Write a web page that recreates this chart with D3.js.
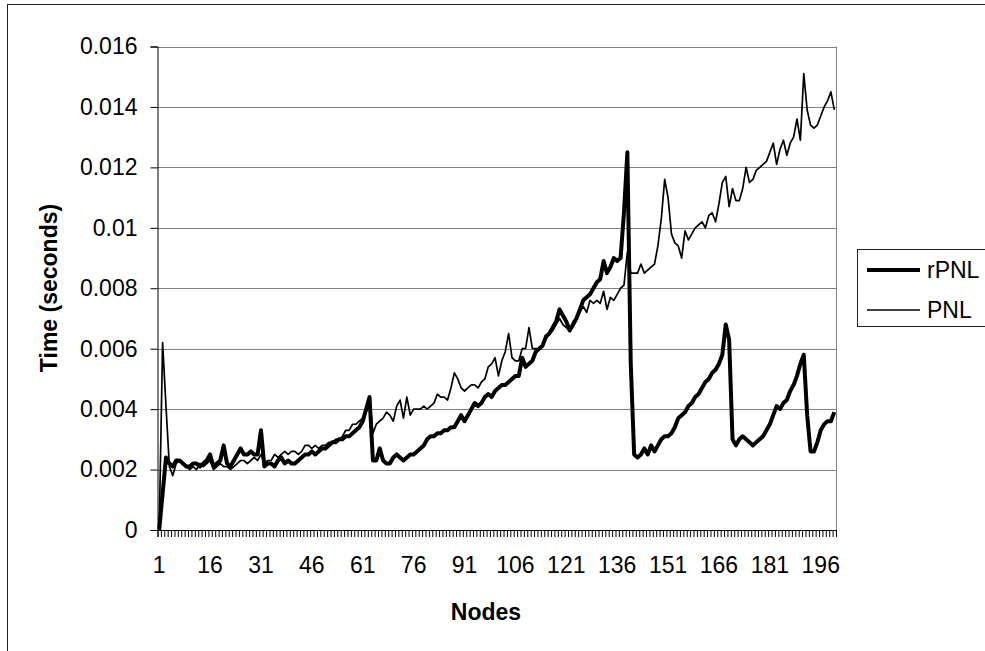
<!DOCTYPE html>
<html>
<head>
<meta charset="utf-8">
<script src="https://cdn.jsdelivr.net/npm/d3@7"></script>
<style>
    body { margin: 0; background: #fff; }
    svg text { font-family: "Liberation Sans", Arial, sans-serif; fill: #000; }
</style>
</head>
<body>
<div id="svgContainer"></div>
<script>
// node count 1..200
const nodes = d3.range(1, 201);

// thick series
const rpnlTimes = [
    0, 0.0012, 0.0024, 0.0022, 0.0021, 0.0023, 0.0023, 0.0022, 0.0021, 0.0021,
    0.0022, 0.0022, 0.0021, 0.0022, 0.0023, 0.0025, 0.0021, 0.0022, 0.0023, 0.0028,
    0.0022, 0.0021, 0.0023, 0.0025, 0.0027, 0.0025, 0.0025, 0.0026, 0.0025, 0.0025,
    0.0033, 0.0021, 0.0022, 0.0022, 0.0021, 0.0023, 0.0024, 0.0022, 0.0023, 0.0022,
    0.0022, 0.0023, 0.0024, 0.0025, 0.0025, 0.0026, 0.0025, 0.0026, 0.0027, 0.0027,
    0.0028, 0.0029, 0.0029, 0.0030, 0.0030, 0.0031, 0.0031, 0.0032, 0.0033, 0.0034,
    0.0036, 0.0040, 0.0044, 0.0023, 0.0023, 0.0027, 0.0023, 0.0022, 0.0022, 0.0024,
    0.0025, 0.0024, 0.0023, 0.0024, 0.0025, 0.0025, 0.0026, 0.0027, 0.0028, 0.0030,
    0.0031, 0.0031, 0.0032, 0.0032, 0.0033, 0.0033, 0.0034, 0.0034, 0.0036, 0.0038,
    0.0036, 0.0038, 0.0040, 0.0042, 0.0041, 0.0042, 0.0044, 0.0045, 0.0044, 0.0046,
    0.0047, 0.0048, 0.0048, 0.0049, 0.0050, 0.0051, 0.0051, 0.0057, 0.0054, 0.0055,
    0.0056, 0.0059, 0.0060, 0.0061, 0.0064, 0.0065, 0.0067, 0.0069, 0.0073, 0.0071,
    0.0069, 0.0066, 0.0068, 0.0070, 0.0073, 0.0076, 0.0077, 0.0078, 0.0080, 0.0082,
    0.0083, 0.0089, 0.0085, 0.0087, 0.0090, 0.0089, 0.0090, 0.0105, 0.0125, 0.0055,
    0.0025, 0.0024, 0.0025, 0.0027, 0.0025, 0.0028, 0.0026, 0.0028, 0.0030, 0.0031,
    0.0031, 0.0032, 0.0034, 0.0037, 0.0038, 0.0039, 0.0041, 0.0042, 0.0044, 0.0045,
    0.0047, 0.0049, 0.0050, 0.0052, 0.0053, 0.0055, 0.0058, 0.0068, 0.0063, 0.0030,
    0.0028, 0.0030, 0.0031, 0.0030, 0.0029, 0.0028, 0.0029, 0.0030, 0.0031, 0.0033,
    0.0035, 0.0038, 0.0041, 0.0040, 0.0042, 0.0043, 0.0046, 0.0048, 0.0051, 0.0055,
    0.0058, 0.0038, 0.0026, 0.0026, 0.0029, 0.0033, 0.0035, 0.0036, 0.0036, 0.0039
];

// thin series
const pnlTimes = [
    0, 0.0062, 0.0041, 0.0021, 0.0018, 0.0022, 0.0023, 0.0022, 0.0021, 0.0020,
    0.0021, 0.0020, 0.0022, 0.0021, 0.0022, 0.0023, 0.0020, 0.0021, 0.0022, 0.0021,
    0.0021, 0.0020, 0.0021, 0.0022, 0.0023, 0.0023, 0.0022, 0.0023, 0.0024, 0.0023,
    0.0025, 0.0022, 0.0023, 0.0023, 0.0025, 0.0024, 0.0025, 0.0026, 0.0025, 0.0026,
    0.0026, 0.0025, 0.0026, 0.0028, 0.0028, 0.0027, 0.0028, 0.0027, 0.0028, 0.0028,
    0.0029, 0.0029, 0.0030, 0.0030, 0.0031, 0.0033, 0.0033, 0.0035, 0.0035, 0.0036,
    0.0037, 0.0039, 0.0044, 0.0032, 0.0035, 0.0036, 0.0037, 0.0039, 0.0038, 0.0036,
    0.0041, 0.0043, 0.0037, 0.0044, 0.0038, 0.0040, 0.0040, 0.0040, 0.0041, 0.0040,
    0.0041, 0.0042, 0.0045, 0.0044, 0.0044, 0.0043, 0.0047, 0.0052, 0.0050, 0.0047,
    0.0046, 0.0047, 0.0048, 0.0048, 0.0047, 0.0049, 0.0050, 0.0054, 0.0055, 0.0057,
    0.0051, 0.0056, 0.0059, 0.0065, 0.0057, 0.0056, 0.0056, 0.0060, 0.0060, 0.0067,
    0.0060, 0.0060, 0.0060, 0.0061, 0.0063, 0.0065, 0.0066, 0.0068, 0.0070, 0.0068,
    0.0067, 0.0066, 0.0069, 0.0070, 0.0072, 0.0074, 0.0072, 0.0076, 0.0075, 0.0076,
    0.0075, 0.0079, 0.0073, 0.0077, 0.0076, 0.0078, 0.0080, 0.0081, 0.0092, 0.0085,
    0.0085, 0.0085, 0.0088, 0.0085, 0.0086, 0.0087, 0.0088, 0.0094, 0.0103, 0.0116,
    0.0110, 0.0098, 0.0095, 0.0094, 0.0090, 0.0099, 0.0096, 0.0098, 0.0100, 0.0101,
    0.0102, 0.0100, 0.0104, 0.0105, 0.0102, 0.0108, 0.0115, 0.0117, 0.0107, 0.0113,
    0.0109, 0.0109, 0.0113, 0.0120, 0.0115, 0.0116, 0.0119, 0.0120, 0.0121, 0.0122,
    0.0125, 0.0128, 0.0121, 0.0126, 0.0129, 0.0124, 0.0128, 0.0130, 0.0136, 0.0129,
    0.0151, 0.0139, 0.0134, 0.0133, 0.0134, 0.0137, 0.0140, 0.0142, 0.0145, 0.0139
];

const yTicks = [0, 0.002, 0.004, 0.006, 0.008, 0.01, 0.012, 0.014, 0.016];
const xTickLabels = [1, 16, 31, 46, 61, 76, 91, 106, 121, 136, 151, 166, 181, 196];
const seriesNames = ["rPNL", "PNL"];

const width = 985;
const height = 651;
const plot = { left: 157.5, right: 836, top: 46.5, bottom: 530 };
const gridColor = "#808080";
const fontSize = "23px";

let svg = d3.select("#svgContainer")
    .append("svg")
    .attr("width", width)
    .attr("height", height);

// outer chart border (runs off the right and bottom of the picture)
svg.append("rect")
    .attr("x", 7.5).attr("y", 4.5)
    .attr("width", 1100).attr("height", 800)
    .attr("fill", "#fff")
    .attr("stroke", "#222")
    .attr("stroke-width", 1);

let x = d3.scaleBand()
    .domain(nodes)
    .range([plot.left, plot.right])
    .paddingInner(0).paddingOuter(0);

// edges of the categories, for the tick marks between them
let xEdge = d3.scaleLinear()
    .domain([0, nodes.length])
    .range([plot.left, plot.right]);

let y = d3.scaleLinear()
    .domain([0, 0.016])
    .range([plot.bottom, plot.top]);

// gridlines
svg.append("g")
    .selectAll("line")
    .data(yTicks.slice(1))
    .join("line")
    .attr("x1", plot.left).attr("x2", plot.right)
    .attr("y1", d => Math.round(y(d)) + 0.5)
    .attr("y2", d => Math.round(y(d)) + 0.5)
    .attr("stroke", gridColor)
    .attr("stroke-width", 1);

// right edge of plot area
svg.append("line")
    .attr("x1", plot.right + 0.5).attr("x2", plot.right + 0.5)
    .attr("y1", plot.top).attr("y2", plot.bottom)
    .attr("stroke", gridColor);

function yFormat(d) {
    return d === 0 ? "0" : String(+d.toFixed(3));
}

let yAxis = svg.append("g")
    .attr("transform", `translate(${plot.left},0)`)
    .call(d3.axisLeft(y).tickValues(yTicks).tickFormat(yFormat).tickSize(7).tickPadding(13));

let xTicks = svg.append("g")
    .attr("transform", `translate(0,${plot.bottom})`)
    .call(d3.axisBottom(xEdge).tickValues(d3.range(0, nodes.length + 1)).tickFormat("").tickSize(7));

let xLabels = svg.append("g")
    .attr("transform", `translate(0,${plot.bottom})`)
    .call(d3.axisBottom(x).tickValues(xTickLabels).tickSize(0).tickPadding(27));

[yAxis, xTicks, xLabels].forEach(g => {
    g.selectAll(".domain").attr("stroke", "#000").attr("stroke-width", 1);
    g.selectAll(".tick line").attr("stroke", "#000").attr("stroke-width", 1);
    g.selectAll("text").style("font-size", fontSize).attr("fill", "#000");
});
xLabels.select(".domain").remove();

// series lines
let line = d3.line()
    .x((d, i) => x(nodes[i]) + x.bandwidth() / 2)
    .y(d => y(d));

svg.append("path")
    .datum(pnlTimes)
    .attr("d", line)
    .attr("fill", "none")
    .attr("stroke", "#000")
    .attr("stroke-width", 1.7)
    .attr("stroke-linejoin", "round");

svg.append("path")
    .datum(rpnlTimes)
    .attr("d", line)
    .attr("fill", "none")
    .attr("stroke", "#000")
    .attr("stroke-width", 4)
    .attr("stroke-linejoin", "round");

// axis titles
svg.append("text")
    .attr("x", 486).attr("y", 620)
    .attr("text-anchor", "middle")
    .style("font-size", fontSize)
    .style("font-weight", "bold")
    .text("Nodes");

svg.append("text")
    .attr("transform", "translate(56.5,288) rotate(-90)")
    .attr("text-anchor", "middle")
    .style("font-size", fontSize)
    .style("font-weight", "bold")
    .text("Time (seconds)");

// legend
let legend = svg.append("g");
legend.append("rect")
    .attr("x", 857.5).attr("y", 249.5)
    .attr("width", 140).attr("height", 77)
    .attr("fill", "#fff")
    .attr("stroke", "#222");

seriesNames.forEach((name, i) => {
    let ly = 270 + i * 40;
    legend.append("line")
        .attr("x1", 867).attr("x2", 920)
        .attr("y1", ly).attr("y2", ly)
        .attr("stroke", "#000")
        .attr("stroke-width", i === 0 ? 4 : 1.7);
    legend.append("text")
        .attr("x", 927).attr("y", ly)
        .attr("dy", "0.36em")
        .style("font-size", fontSize)
        .text(name);
});
</script>
</body>
</html>
